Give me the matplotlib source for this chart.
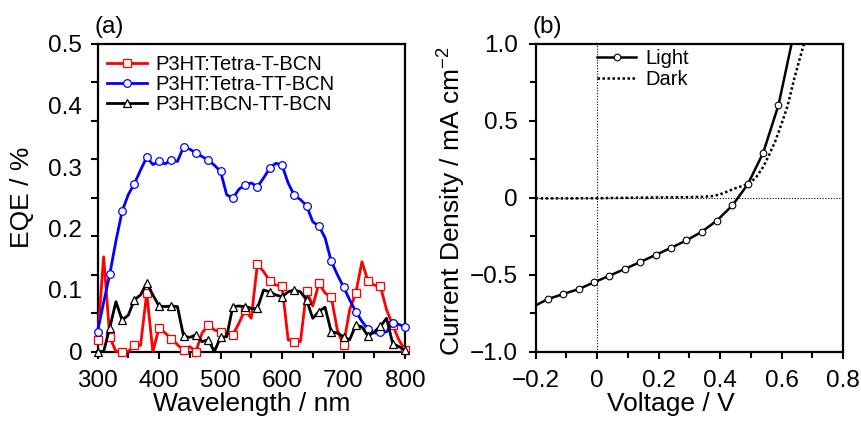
import numpy as np
import matplotlib
matplotlib.use("Agg")
import matplotlib.pyplot as plt
from matplotlib.ticker import FixedLocator, FuncFormatter

plt.rcParams['font.family'] = ['Liberation Sans', 'DejaVu Sans']

# ---------------- data: panel (a) EQE ----------------
wavelength = list(range(300, 801, 10))
eqe_tetra_t = [0.019, 0.154, 0.023, 0.0, 0.0, 0.0, 0.010, 0.010, 0.095, 0.0,
               0.038, 0.030, 0.021, 0.011, 0.002, 0.008, 0.0, 0.030, 0.043, 0.035,
               0.032, 0.030, 0.027, 0.046, 0.068, 0.054, 0.142, 0.130, 0.115, 0.108,
               0.107, 0.019, 0.016, 0.016, 0.099, 0.074, 0.111, 0.095, 0.089, 0.035,
               0.010, 0.068, 0.095, 0.146, 0.114, 0.108, 0.106, 0.068, 0.043, 0.019,
               0.002]
eqe_tetra_tt = [0.032, 0.080, 0.126, 0.180, 0.228, 0.255, 0.273, 0.295, 0.316, 0.304,
                0.309, 0.305, 0.312, 0.309, 0.333, 0.329, 0.323, 0.317, 0.311, 0.303,
                0.293, 0.255, 0.249, 0.264, 0.271, 0.274, 0.268, 0.282, 0.298, 0.306,
                0.303, 0.274, 0.254, 0.247, 0.237, 0.211, 0.204, 0.185, 0.147, 0.125,
                0.105, 0.084, 0.065, 0.049, 0.036, 0.030, 0.031, 0.032, 0.046, 0.044,
                0.040]
eqe_bcn_tt = [0.0, 0.0, 0.039, 0.081, 0.051, 0.059, 0.084, 0.092, 0.111, 0.092,
              0.074, 0.073, 0.074, 0.073, 0.025, 0.023, 0.027, 0.016, 0.019, 0.0,
              0.023, 0.024, 0.073, 0.074, 0.073, 0.070, 0.070, 0.100, 0.097, 0.092,
              0.089, 0.097, 0.100, 0.097, 0.084, 0.054, 0.065, 0.072, 0.032, 0.030,
              0.024, 0.019, 0.043, 0.040, 0.025, 0.032, 0.041, 0.054, 0.013, 0.008,
              0.002]
labels_a = ["P3HT:Tetra-T-BCN", "P3HT:Tetra-TT-BCN", "P3HT:BCN-TT-BCN"]

# ---------------- data: panel (b) J-V ----------------
v_light = [-0.20, -0.16, -0.11, -0.06, -0.01, 0.04, 0.09, 0.14, 0.19, 0.24,
           0.29, 0.34, 0.39, 0.44, 0.49, 0.54, 0.59, 0.64]
j_light = [-0.700, -0.659, -0.626, -0.594, -0.550, -0.507, -0.463, -0.418, -0.372, -0.326,
           -0.278, -0.222, -0.148, -0.050, 0.087, 0.291, 0.602, 1.07]
v_dark = [-0.2, -0.1, 0.0, 0.1, 0.2, 0.3, 0.35, 0.38, 0.40, 0.42, 0.45, 0.48,
          0.50, 0.52, 0.54, 0.56, 0.58, 0.60, 0.62, 0.64, 0.66, 0.68]
j_dark = [-0.004, -0.004, -0.003, 0.0, 0.002, 0.004, 0.007, 0.012, 0.022, 0.038, 0.062, 0.082,
          0.10, 0.14, 0.20, 0.28, 0.37, 0.48, 0.60, 0.765, 0.91, 1.05]

W, H = 861, 421
fig = plt.figure(figsize=(W / 100, H / 100), dpi=100)

def frac_axes(x0, x1, ytop, ybot):
    return [x0 / W, 1 - ybot / H, (x1 - x0) / W, (ybot - ytop) / H]

ax1 = fig.add_axes(frac_axes(97.5, 405, 44, 351.5))
ax2 = fig.add_axes(frac_axes(535.7, 843, 44, 351.5))

TICK_FS = 17.5
LABEL_FS = 19
LEG_FS = 14.5

# ---------------- panel (a) ----------------
styles = [("#ff0000", "s"), ("#0000ff", "o"), ("#000000", "^")]
series = [eqe_tetra_t, eqe_tetra_tt, eqe_bcn_tt]
for (c, m), ys, lab in zip(styles, series, labels_a):
    ax1.plot(wavelength, ys, color=c, lw=2.0, marker=m, markevery=2,
             markersize=5.5, markerfacecolor="white", markeredgecolor=c,
             markeredgewidth=0.9, label=lab, clip_on=False, zorder=3)

ax1.set_xlim(300, 800)
ax1.set_ylim(0, 0.5)
ax1.xaxis.set_major_locator(FixedLocator([300, 400, 500, 600, 700, 800]))
ax1.xaxis.set_minor_locator(FixedLocator([350, 450, 550, 650, 750]))
ax1.yaxis.set_major_locator(FixedLocator([0, 0.1, 0.2, 0.3, 0.4, 0.5]))
ax1.yaxis.set_minor_locator(FixedLocator(list(np.arange(0, 0.5001, 0.0625))))
ax1.yaxis.remove_overlapping_locs = False
ax1.yaxis.set_major_formatter(FuncFormatter(lambda v, p: "0" if abs(v) < 1e-9 else f"{v:.1f}"))
ax1.tick_params(axis="x", which="major", direction="out", length=5, width=1.5,
                labelsize=TICK_FS, pad=8)
ax1.tick_params(axis="x", which="minor", direction="out", length=4, width=1.5)
ax1.tick_params(axis="y", which="major", direction="out", length=0, width=1.5,
                labelsize=TICK_FS, pad=11)
ax1.tick_params(axis="y", which="minor", direction="out", length=5, width=1.5)
ax1.set_xlabel("Wavelength / nm", fontsize=LABEL_FS)
ax1.set_ylabel("EQE / %", fontsize=LABEL_FS)
ax1.xaxis.set_label_coords(0.5, -0.132)
ax1.yaxis.set_label_coords(-0.205, 0.5)
leg1 = ax1.legend(loc="upper left", bbox_to_anchor=(0.031, 0.965), frameon=False,
                  fontsize=LEG_FS, handlelength=2.0, handletextpad=0.4,
                  labelspacing=0.06, borderpad=0, borderaxespad=0)

# ---------------- panel (b) ----------------
ax2.axhline(0, color="black", lw=0.8, ls=(0, (1, 1.5)), zorder=1)
ax2.axvline(0, color="black", lw=0.8, ls=(0, (1, 1.5)), zorder=1)
ax2.plot(v_light, j_light, color="black", lw=1.8, marker="o", markersize=4.8,
         markerfacecolor="white", markeredgecolor="black", markeredgewidth=0.8,
         markevery=list(range(1, len(v_light) - 1)), label="Light", zorder=3)
ax2.plot(v_dark, j_dark, color="black", lw=1.8, ls=(0, (1, 1)), label="Dark", zorder=2)
ax2.set_xlim(-0.2, 0.8)
ax2.set_ylim(-1.0, 1.0)
ax2.xaxis.set_major_locator(FixedLocator([-0.2, 0, 0.2, 0.4, 0.6, 0.8]))
ax2.xaxis.set_minor_locator(FixedLocator([-0.1, 0.1, 0.3, 0.5, 0.7]))
ax2.yaxis.set_major_locator(FixedLocator([-1.0, -0.5, 0, 0.5, 1.0]))
ax2.yaxis.set_minor_locator(FixedLocator([-0.75, -0.25, 0.25, 0.75]))

def fmt_x(v, p):
    if abs(v) < 1e-9:
        return "0"
    return f"{v:.1f}".replace("-", "\u2212")

ax2.xaxis.set_major_formatter(FuncFormatter(fmt_x))
ax2.yaxis.set_major_formatter(FuncFormatter(fmt_x))
ax2.tick_params(axis="both", which="major", direction="out", length=5, width=1.5,
                labelsize=TICK_FS)
ax2.tick_params(axis="both", which="minor", direction="out", length=4, width=1.5)
ax2.tick_params(axis="x", which="major", pad=8)
ax2.tick_params(axis="y", which="major", pad=8)
ax2.set_xlabel("Voltage / V", fontsize=LABEL_FS)
ax2.set_ylabel("Current Density / mA cm$^{\\mathregular{-2}}$", fontsize=LABEL_FS)
ax2.xaxis.set_label_coords(0.441, -0.132)
ax2.yaxis.set_label_coords(-0.225, 0.49)
leg2 = ax2.legend(loc="upper left", bbox_to_anchor=(0.1995, 0.985), frameon=False,
                  fontsize=LEG_FS, handlelength=1.95, handletextpad=0.45,
                  labelspacing=0.1, borderpad=0, borderaxespad=0)

for ax in (ax1, ax2):
    for sp in ax.spines.values():
        sp.set_linewidth(1.6)

fig.text(109 / W, 1 - 27 / H, "(a)", fontsize=17.5, ha="center", va="center")
fig.text(547.5 / W, 1 - 27 / H, "(b)", fontsize=17.5, ha="center", va="center")

fig.savefig("out.png", dpi=100)
